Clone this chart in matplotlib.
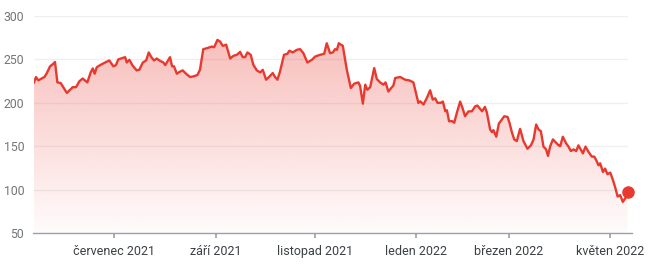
import numpy as np
import matplotlib
matplotlib.use("Agg")
import matplotlib.pyplot as plt
from matplotlib.colors import to_rgb

# trading-day index since the first point, and price
days = [0, 0.85, 1.8, 3.3, 4.4, 5.4, 6.8, 8.2, 8.9, 9.9, 11.3, 12.4, 13.9, 15.3, 16.4, 17.8,
        19.2, 20.6, 22.6, 24.0, 24.9, 25.7, 26.6, 28.0, 30.1, 31.9, 33.6, 34.7, 35.7, 38.6,
        39.3, 40.4, 41.8, 43.5, 44.6, 46.1, 47.5, 48.6, 49.7, 50.8, 52.0, 53.1, 54.8, 55.6,
        57.6, 58.5, 59.3, 60.5, 61.9, 63.0, 64.4, 66.1, 67.5, 69.2, 70.3, 71.7, 73.4, 75.3,
        76.3, 77.7, 78.8, 80.0, 81.4, 83.1, 84.4, 86.1, 87.3, 88.4, 89.4, 90.4, 91.8, 92.9,
        94.4, 95.8, 96.9, 98.3, 100.0, 101.1, 102.1, 103.1, 104.2, 105.9, 107.3, 108.2,
        109.6, 111.3, 112.7, 114.1, 115.8, 117.7, 119.1, 121.2, 122.9, 124.0, 125.4, 126.6,
        127.5, 128.3, 129.1, 130.8, 132.5, 134.2, 135.6, 137.4, 138.1, 139.3, 140.3, 141.2,
        142.4, 144.1, 145.2, 146.6, 148.0, 148.9, 150.1, 151.6, 152.2, 153.0, 155.1, 156.2,
        157.2, 159.0, 160.7, 162.8, 163.6, 165.0, 166.4, 167.8, 168.9, 169.9, 170.9, 172.3,
        173.2, 174.2, 174.9, 175.8, 177.2, 178.0, 179.1, 180.5, 181.5, 182.6, 184.0, 185.5,
        186.9, 187.8, 189.0, 189.8, 191.0, 191.8, 193.2, 194.0, 194.6, 195.8, 196.9, 198.2,
        199.2, 200.6, 201.4, 202.4, 203.4, 204.5, 205.9, 207.3, 209.0, 210.5, 211.6, 212.7,
        213.7, 214.7, 215.8, 216.9, 217.7, 218.6, 219.8, 220.8, 222.2, 222.9, 224.0, 225.4,
        226.4, 227.4, 228.5, 229.7, 230.6, 231.7, 232.5, 233.6, 234.9, 236.3, 237.3, 238.1,
        239.1, 239.8, 241.0, 241.9, 242.9, 244.1, 245.2, 246.2, 247.2, 248.3, 249.4, 250.4,
        251.1, 251.4]
prices = [223.5, 229.7, 225.8, 228, 229.7, 234, 242, 245, 247, 223.5, 222.8, 218, 211.4, 215,
          218, 218, 224.7, 228, 223.5, 235, 239.6, 233.5, 241, 243.4, 246.4, 248.8, 242, 243.4,
          250, 252.6, 246.4, 249.5, 242.7, 237.3, 238, 246.4, 248.8, 258, 252.6, 248.8, 251,
          248.8, 246.4, 243.4, 252.6, 242, 242, 233.5, 236, 237.3, 233.5, 229.7, 230.4, 232,
          238, 261.8, 263, 264.8, 264, 272.5, 270.5, 265.6, 267, 251, 254, 255.6, 258.7, 252.6,
          252.6, 258, 255.3, 243.8, 237.3, 235, 238, 226.6, 231, 234.3, 229.7, 226.6, 236,
          255.3, 256.4, 260, 258, 261, 261.8, 257.2, 246.4, 249.5, 253.3, 255.3, 256.4, 268.6,
          257.2, 258, 261.8, 261, 268.6, 265.6, 238, 217, 222, 223.5, 219.7, 199, 220.9, 215,
          218, 240, 227.4, 223.5, 220.9, 223.5, 213, 218, 219.7, 228.6, 229.7, 228, 226.6,
          225.8, 223.5, 199.9, 201.7, 198, 205.6, 214.4, 203.7, 205.2, 200, 200, 201.4, 190.3,
          191.4, 178.8, 178.8, 177, 188.4, 201.4, 194, 184.5, 190, 190.3, 196, 196.8, 193,
          190.3, 195.3, 189, 169.3, 166.2, 168.5, 160.9, 176, 180.7, 184.5, 183.7, 176.9,
          166.2, 157.8, 155.9, 170, 156, 147.1, 151, 157.8, 175, 169.3, 167.3, 149.5, 146.4,
          138.8, 149.5, 157.8, 155, 151, 150.1, 160.9, 153.2, 149.5, 144.4, 146.3, 144.4, 151,
          145.5, 141.7, 149.5, 143.3, 138, 138, 134.1, 128, 130.3, 120.3, 124.2, 117.7, 119.6,
          111.1, 102.3, 92, 93.6, 85.9, 89.8, 92.8, 96.7]

tick_days = [34, 77, 119, 162, 201, 244]
tick_labels = ["červenec 2021", "září 2021", "listopad 2021", "leden 2022",
               "březen 2022", "květen 2022"]
y_ticks = [50, 100, 150, 200, 250, 300]

plt.rcParams['font.family'] = ['Roboto', 'DejaVu Sans']

RED = '#e8392f'
fig = plt.figure(figsize=(6.5, 2.64), dpi=100)
ax = fig.add_axes([34/650, 1-233/264, (628-34)/650, (233-16)/264])

xmin, xmax = 0, 251.6
ymin, ymax = 50, 300
ax.set_xlim(xmin, xmax)
ax.set_ylim(ymin, ymax)

# gradient fill under the line
poly = ax.fill_between(days, prices, ymin, color='none', lw=0)
n = 256
rgb = np.array(to_rgb(RED))
grad = np.zeros((n, 1, 4))
grad[:, 0, :3] = rgb
grad[:, 0, 3] = np.linspace(0.02, 0.36, n)
im = ax.imshow(grad, extent=[xmin, xmax, ymin, ymax], aspect='auto',
               origin='lower', zorder=1, interpolation='bilinear')
im.set_clip_path(poly.get_paths()[0], transform=ax.transData)

ax.plot(days, prices, color=RED, lw=1.7, zorder=3, solid_joinstyle='round')
ax.plot([days[-1]], [prices[-1]], 'o', color=RED, ms=8, zorder=4, clip_on=False)

# grid
for y in y_ticks[1:]:
    ax.axhline(y, color='#efefef', lw=0.9, zorder=0)

for s in ['top', 'right', 'left']:
    ax.spines[s].set_visible(False)
ax.spines['bottom'].set_color('#9aa0a6')
ax.spines['bottom'].set_linewidth(1.0)
ax.spines['bottom'].set_bounds(xmin - 0.5, xmax + 1.5)

ax.set_yticks(y_ticks)
ax.set_yticklabels([str(v) for v in y_ticks])
ax.tick_params(axis='y', length=0, pad=7, labelsize=8.8, labelcolor='#70757a')
ax.set_xticks(tick_days)
ax.set_xticklabels(tick_labels)
ax.tick_params(axis='x', length=3.5, width=1.2, color='#9aa0a6', pad=5,
               labelsize=9, labelcolor='#3c4043')

fig.savefig('out.png', dpi=100)
